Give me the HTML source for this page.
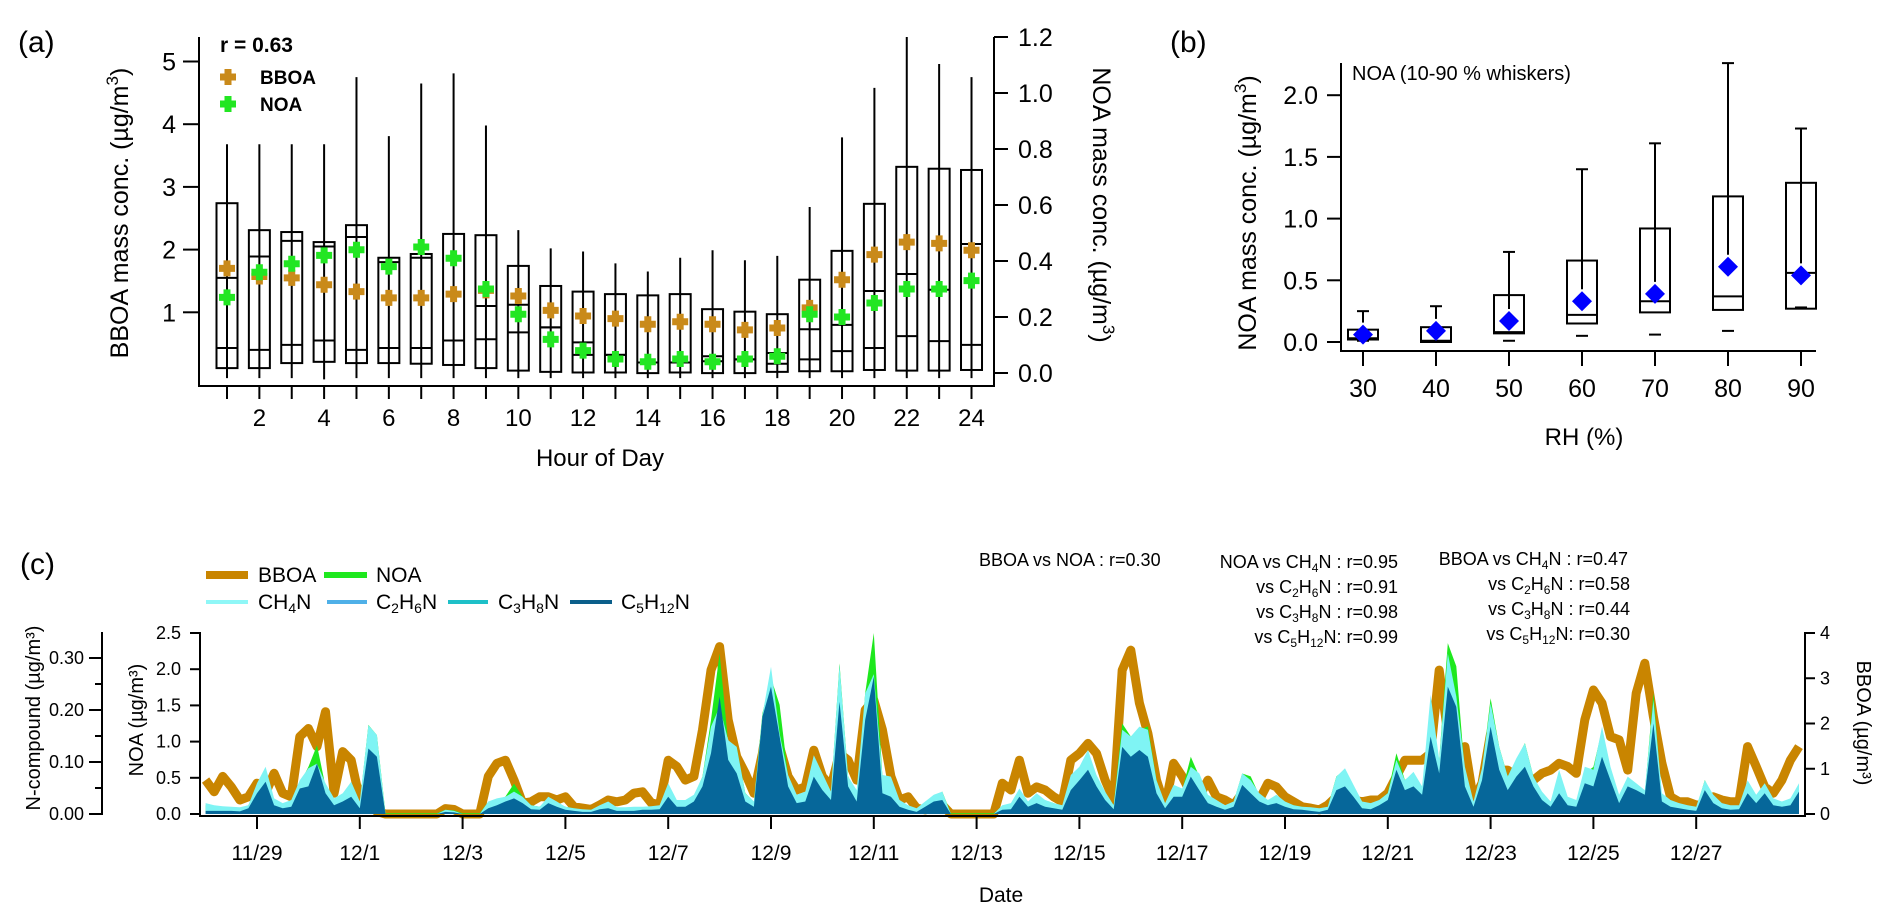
<!DOCTYPE html>
<html><head><meta charset="utf-8"><style>
html,body{margin:0;padding:0;background:#fff;}
svg{display:block;font-family:"Liberation Sans",Arial,sans-serif;}
</style></head>
<body>
<svg id="fig" width="1892" height="924" viewBox="0 0 1892 924" xmlns="http://www.w3.org/2000/svg">
<g>
<text x="18" y="52" font-size="30">(a)</text>
<line x1="199" y1="37" x2="199" y2="387" stroke="#000" stroke-width="2"/>
<line x1="198" y1="386" x2="995" y2="386" stroke="#000" stroke-width="2"/>
<line x1="994" y1="37" x2="994" y2="387" stroke="#000" stroke-width="2"/>
<text transform="translate(128,213) rotate(-90)" text-anchor="middle" font-size="25">BBOA mass conc. (µg/m<tspan dy="-10" font-size="17">3</tspan><tspan dy="10">)</tspan></text>
<text transform="translate(1093,205) rotate(90)" text-anchor="middle" font-size="25">NOA mass conc. (µg/m<tspan dy="-10" font-size="17">3</tspan><tspan dy="10">)</tspan></text>
<text x="600" y="466" text-anchor="middle" font-size="24">Hour of Day</text>
<text x="220" y="52" font-size="21" font-weight="bold">r = 0.63</text>
<path d="M224.5 69h7v4.5h4.5v7h-4.5v4.5h-7v-4.5h-4.5v-7h4.5z" fill="#c98a1a"/>
<text x="260" y="84" font-size="19" font-weight="bold">BBOA</text>
<path d="M224.5 96h7v4.5h4.5v7h-4.5v4.5h-7v-4.5h-4.5v-7h4.5z" fill="#22e622"/>
<text x="260" y="111" font-size="19" font-weight="bold">NOA</text>
<g id="aMarks"></g>
</g>
<g>
<text x="1170" y="52" font-size="30">(b)</text>
<line x1="1341" y1="63" x2="1341" y2="352" stroke="#000" stroke-width="2"/>
<line x1="1340" y1="351" x2="1816" y2="351" stroke="#000" stroke-width="2"/>
<text transform="translate(1256,213) rotate(-90)" text-anchor="middle" font-size="25">NOA mass conc. (µg/m<tspan dy="-10" font-size="17">3</tspan><tspan dy="10">)</tspan></text>
<text x="1584" y="445" text-anchor="middle" font-size="24">RH (%)</text>
<text x="1352" y="80" font-size="20">NOA (10-90 % whiskers)</text>
<g id="bMarks"></g>
</g>
<g>
<text x="20" y="574" font-size="30">(c)</text>
<line x1="206" y1="575" x2="248" y2="575" stroke="#c98500" stroke-width="8"/>
<text x="258" y="582" font-size="21">BBOA</text>
<line x1="324" y1="575" x2="367" y2="575" stroke="#1ee81e" stroke-width="6"/>
<text x="376" y="582" font-size="21">NOA</text>
<line x1="206" y1="602" x2="248" y2="602" stroke="#8ff7f7" stroke-width="4"/>
<text x="258" y="609" font-size="21">CH<tspan font-size="14" dy="4">4</tspan><tspan dy="-4">N</tspan></text>
<line x1="327" y1="602" x2="367" y2="602" stroke="#4fb0e8" stroke-width="4"/>
<text x="376" y="609" font-size="21">C<tspan font-size="14" dy="4">2</tspan><tspan dy="-4">H</tspan><tspan font-size="14" dy="4">6</tspan><tspan dy="-4">N</tspan></text>
<line x1="448" y1="602" x2="488" y2="602" stroke="#1ec0c8" stroke-width="4"/>
<text x="498" y="609" font-size="21">C<tspan font-size="14" dy="4">3</tspan><tspan dy="-4">H</tspan><tspan font-size="14" dy="4">8</tspan><tspan dy="-4">N</tspan></text>
<line x1="570" y1="602" x2="612" y2="602" stroke="#0b5f8a" stroke-width="4"/>
<text x="621" y="609" font-size="21">C<tspan font-size="14" dy="4">5</tspan><tspan dy="-4">H</tspan><tspan font-size="14" dy="4">12</tspan><tspan dy="-4">N</tspan></text>

<text x="979" y="566" font-size="18">BBOA vs NOA : r=0.30</text>
<g font-size="18" text-anchor="end">
<text x="1398" y="568">NOA vs CH<tspan font-size="12" dy="4">4</tspan><tspan dy="-4">N : r=0.95</tspan></text>
<text x="1398" y="593">vs C<tspan font-size="12" dy="4">2</tspan><tspan dy="-4">H</tspan><tspan font-size="12" dy="4">6</tspan><tspan dy="-4">N : r=0.91</tspan></text>
<text x="1398" y="618">vs C<tspan font-size="12" dy="4">3</tspan><tspan dy="-4">H</tspan><tspan font-size="12" dy="4">8</tspan><tspan dy="-4">N : r=0.98</tspan></text>
<text x="1398" y="643">vs C<tspan font-size="12" dy="4">5</tspan><tspan dy="-4">H</tspan><tspan font-size="12" dy="4">12</tspan><tspan dy="-4">N: r=0.99</tspan></text>
</g>
<g font-size="18" text-anchor="end">
<text x="1628" y="565">BBOA vs CH<tspan font-size="12" dy="4">4</tspan><tspan dy="-4">N : r=0.47</tspan></text>
<text x="1630" y="590">vs C<tspan font-size="12" dy="4">2</tspan><tspan dy="-4">H</tspan><tspan font-size="12" dy="4">6</tspan><tspan dy="-4">N : r=0.58</tspan></text>
<text x="1630" y="615">vs C<tspan font-size="12" dy="4">3</tspan><tspan dy="-4">H</tspan><tspan font-size="12" dy="4">8</tspan><tspan dy="-4">N : r=0.44</tspan></text>
<text x="1630" y="640">vs C<tspan font-size="12" dy="4">5</tspan><tspan dy="-4">H</tspan><tspan font-size="12" dy="4">12</tspan><tspan dy="-4">N: r=0.30</tspan></text>
</g>
<text transform="translate(40,718) rotate(-90)" text-anchor="middle" font-size="20">N-compound (µg/m³)</text>
<text transform="translate(143,720) rotate(-90)" text-anchor="middle" font-size="20">NOA (µg/m³)</text>
<text transform="translate(1857,723) rotate(90)" text-anchor="middle" font-size="20">BBOA (µg/m³)</text>
<text x="1001" y="902" text-anchor="middle" font-size="21">Date</text>
<g id="cMarks"></g>
<line x1="200" y1="632" x2="200" y2="817" stroke="#000" stroke-width="2"/>
<line x1="199" y1="816" x2="1806" y2="816" stroke="#000" stroke-width="2"/>
<line x1="1805" y1="632" x2="1805" y2="817" stroke="#000" stroke-width="2"/>
<line x1="102" y1="632" x2="102" y2="815" stroke="#000" stroke-width="2"/>
</g>
</svg>
<script>
const aHours = [1,2,3,4,5,6,7,8,9,10,11,12,13,14,15,16,17,18,19,20,21,22,23,24];
const aBoxTop = [2.74,2.31,2.28,2.12,2.39,1.87,1.93,2.25,2.23,1.74,1.42,1.33,1.29,1.27,1.29,1.05,1.01,0.97,1.52,1.98,2.73,3.32,3.29,3.27];
const aBoxBottom = [0.11,0.11,0.19,0.21,0.19,0.19,0.18,0.16,0.11,0.07,0.05,0.04,0.04,0.03,0.04,0.03,0.03,0.05,0.06,0.06,0.08,0.07,0.07,0.08];
const aMedianUpper = [1.55,1.89,2.14,2.05,2.2,1.8,1.87,0.55,1.10,1.12,0.76,0.52,0.32,0.2,0.2,0.3,0.25,0.35,0.73,0.80,1.34,1.61,1.36,2.09];
const aMedianLower = [0.43,0.40,0.48,0.55,0.40,0.43,0.43,0.55,0.57,0.68,0.76,0.32,0.32,0.2,0.2,0.22,0.25,0.18,0.25,0.38,0.43,0.62,0.54,0.48];
const aWhiskerTop = [3.68,3.68,3.68,3.68,4.75,3.81,4.65,4.81,3.98,2.31,2.02,1.97,1.78,1.65,1.87,1.99,1.83,1.90,2.68,3.79,4.58,5.39,4.96,4.75];
const aWhiskerBottom = [-0.05,-0.05,-0.05,-0.07,-0.05,-0.05,-0.05,-0.05,-0.05,-0.05,-0.05,-0.05,-0.05,-0.05,-0.05,-0.05,-0.05,-0.05,-0.05,-0.05,-0.05,-0.05,-0.05,-0.05];
const aBboaMean = [1.70,1.57,1.55,1.44,1.33,1.23,1.23,1.29,1.35,1.26,1.03,0.94,0.90,0.81,0.85,0.81,0.72,0.75,1.07,1.52,1.92,2.12,2.10,1.99];
const aNoaMean = [0.27,0.36,0.39,0.42,0.44,0.38,0.45,0.41,0.30,0.21,0.12,0.08,0.05,0.04,0.05,0.04,0.05,0.06,0.21,0.20,0.25,0.30,0.30,0.33];
const aLeftTicks = [1,2,3,4,5];
const aRightTicks = [0.0,0.2,0.4,0.6,0.8,1.0,1.2];
const aHourLabels = [2,4,6,8,10,12,14,16,18,20,22,24];

const bRH = [30,40,50,60,70,80,90];
const bBoxTop = [0.10,0.12,0.38,0.66,0.92,1.18,1.29];
const bBoxBottom = [0.02,0.00,0.07,0.15,0.24,0.26,0.27];
const bMedian = [0.03,0.01,0.08,0.22,0.33,0.37,0.56];
const bWhiskerTop = [0.25,0.29,0.73,1.40,1.61,2.26,1.73];
const bWhiskerBottom = [0.01,0.0,0.01,0.05,0.06,0.09,0.28];
const bMean = [0.06,0.09,0.17,0.33,0.39,0.61,0.54];
const bYTicks = [0.0,0.5,1.0,1.5,2.0];

const cStartDay = -1;
const cStepHours = 4;
const cBBOA = [0.75,0.49,0.83,0.60,0.31,0.38, 0.68,0.46,0.90,0.46,0.38,1.71, 1.89,1.49,2.26,0.46,1.38,1.19, 0.31,0.75,0.05,0,0,0, 0,0,0,0,0.12,0.10, 0,0,0,0.83,1.12,1.19, 0.75,0.24,0.27,0.38,0.38,0.31, 0.38,0.16,0.13,0.10,0.20,0.31,
 0.27,0.31,0.46,0.49,0.25,0.20, 1.19,1.05,0.75,0.83,1.86,3.18, 3.70,2.08,1.27,0.90,0.46,1.34, 2.59,1.49,0.83,0.53,0.60,1.41, 0.83,0.60,1.34,1.19,0.75,2.30, 2.52,1.86,0.83,0.31,0.38,0.13, 0.09,0.16,0.20,0,0,0, 0,0,0,0.68,0.53,
 1.19, 0.46,0.60,0.53,0.38,0.27,1.19, 1.34,1.56,1.34,0.75,0.31,3.18, 3.62,2.45,1.78,0.75,0.16,1.12, 0.83,0.46,0.38,0.75,0.38,0.31, 0.20,0.46,0.27,0.31,0.68,0.60, 0.38,0.27,0.16,0.13,0.09,0.20, 0.38,0.46,0.31,0.27,0.31,0.31, 0.46,0.83,1.19,1.19,
 1.19,1.34, 3.18,1.78,0.90,1.49,0.31,0.68, 1.78,0.97,0.97,0.83,0.60,0.75, 0.90,0.97,1.12,1.05,0.90,2.08, 2.74,2.45,1.71,1.64,0.97,2.67, 3.33,2.15,1.12,0.38,0.27,0.27, 0.20,0.20,0.38,0.31,0.27,0.27, 1.49,1.05,0.60,0.46,0.75,1.19, 1.49];
const cNOA = [0.12,0.10,0.10,0.09,0.08,0.12, 0.40,0.63,0.19,0.12,0.17,0.42, 0.65,0.95,0.38,0.19,0.26,0.42, 0.15,1.23,1.09,0.01,0.01,0.01, 0.01,0.01,0.01,0.01,0.06,0.05, 0.01,0.01,0.01,0.17,0.19,0.24, 0.42,0.24,0.12,0.10,0.22,0.16, 0.10,0.08,0.06,0.06,0.10,0.15,
 0.08,0.08,0.08,0.09,0.10,0.10, 0.42,0.17,0.19,0.24,0.52,1.30, 2.22,0.98,0.93,0.29,0.17,1.39, 1.88,1.51,0.52,0.24,0.29,0.79, 0.56,0.29,2.08,0.52,0.29,1.67, 2.50,0.52,0.49,0.17,0.10,0.06, 0.17,0.24,0.31,0.01,0.01,0.01, 0.01,0.01,0.01,0.10,0.12,
 0.33, 0.17,0.26,0.19,0.15,0.10,0.52, 0.61,0.84,0.52,0.29,0.12,1.25, 1.07,1.16,1.21,0.47,0.12,0.38, 0.33,0.79,0.52,0.24,0.17,0.10, 0.17,0.56,0.52,0.26,0.19,0.24, 0.17,0.12,0.10,0.08,0.06,0.10, 0.52,0.61,0.38,0.15,0.12,0.19, 0.29,0.84,0.47,0.56,
 0.33,1.16, 0.75,2.36,2.04,0.56,0.15,0.61, 1.60,0.93,0.52,0.75,0.98,0.52, 0.29,0.17,0.38,0.19,0.17,0.56, 0.65,1.16,0.61,0.24,0.47,0.38, 0.29,1.67,0.24,0.17,0.12,0.10, 0.08,0.47,0.24,0.12,0.10,0.10, 0.42,0.24,0.38,0.19,0.15,0.19, 0.33];
const cCH4N = [0.021,0.017,0.015,0.014,0.013,0.017, 0.059,0.091,0.030,0.021,0.027,0.065, 0.088,0.097,0.059,0.030,0.040,0.062, 0.024,0.171,0.152,0,0,0, 0,0,0,0,0.008,0.006, 0,0,0,0.024,0.030,0.033, 0.043,0.033,0.017,0.014,0.033,0.024, 0.014,0.011,0.009,0.008,0.017,0.024,
 0.013,0.013,0.014,0.014,0.015,0.017, 0.059,0.027,0.027,0.037,0.072,0.168, 0.206,0.142,0.129,0.040,0.024,0.190, 0.283,0.155,0.075,0.037,0.043,0.113, 0.078,0.043,0.287,0.072,0.046,0.232, 0.269,0.075,0.072,0.027,0.017,0.011, 0.024,0.037,0.043,0,0,0, 0,0,0,0.017,0.021,
 0.049, 0.024,0.040,0.027,0.021,0.017,0.075, 0.091,0.123,0.075,0.043,0.017,0.162, 0.149,0.168,0.162,0.065,0.021,0.056, 0.049,0.091,0.078,0.037,0.027,0.017, 0.024,0.078,0.065,0.040,0.027,0.037, 0.024,0.017,0.014,0.013,0.011,0.014, 0.072,0.088,0.056,0.024,0.021,0.027, 0.040,0.104,0.065,0.081,
 0.053,0.229, 0.104,0.309,0.226,0.091,0.024,0.088, 0.213,0.129,0.072,0.107,0.136,0.072, 0.043,0.024,0.085,0.033,0.027,0.091, 0.085,0.168,0.091,0.037,0.072,0.059, 0.046,0.219,0.040,0.027,0.021,0.017, 0.014,0.065,0.037,0.021,0.017,0.017, 0.065,0.037,0.059,0.030,0.024,0.030, 0.059];
const cC5H12N = [0.006,0.006,0.006,0.006,0.005,0.011, 0.040,0.062,0.017,0.011,0.014,0.049, 0.053,0.097,0.040,0.017,0.024,0.033, 0.011,0.126,0.110,0,0,0, 0,0,0,0,0.004,0.003, 0,0,0,0.011,0.017,0.024, 0.030,0.021,0.009,0.008,0.021,0.014, 0.008,0.006,0.004,0.004,0.009,0.011,
 0.006,0.006,0.006,0.008,0.008,0.009, 0.033,0.014,0.014,0.024,0.053,0.117, 0.226,0.104,0.078,0.024,0.014,0.187, 0.245,0.149,0.053,0.021,0.024,0.072, 0.046,0.027,0.216,0.053,0.024,0.181, 0.264,0.040,0.033,0.014,0.008,0.004, 0.014,0.024,0.027,0,0,0, 0,0,0,0.008,0.009,
 0.033, 0.014,0.021,0.014,0.011,0.008,0.046, 0.065,0.085,0.053,0.027,0.009,0.129, 0.110,0.123,0.110,0.040,0.011,0.033, 0.033,0.072,0.046,0.021,0.014,0.008, 0.014,0.056,0.040,0.024,0.017,0.021, 0.014,0.009,0.008,0.006,0.004,0.008, 0.046,0.053,0.033,0.011,0.009,0.017, 0.027,0.085,0.046,0.053,
 0.037,0.149, 0.078,0.245,0.206,0.053,0.014,0.065, 0.168,0.085,0.046,0.072,0.091,0.053, 0.027,0.014,0.040,0.017,0.014,0.059, 0.053,0.110,0.065,0.021,0.053,0.046, 0.037,0.174,0.024,0.014,0.011,0.008, 0.006,0.046,0.021,0.011,0.008,0.009, 0.040,0.021,0.040,0.017,0.014,0.017, 0.043];
const cDateLabels = ['11/29','12/1','12/3','12/5','12/7','12/9','12/11','12/13','12/15','12/17','12/19','12/21','12/23','12/25','12/27'];
const cDateDays = [0,2,4,6,8,10,12,14,16,18,20,22,24,26,28];
const cNoaTicks = [0.0,0.5,1.0,1.5,2.0,2.5];
const cBboaTicks = [0,1,2,3,4];
const cNcompTicks = [0.00,0.10,0.20,0.30];
const cNcompMinor = [0.05,0.15,0.25];

const NS = 'http://www.w3.org/2000/svg';
function mk(tag, attrs, parent){ const e=document.createElementNS(NS,tag); for(const k in attrs) e.setAttribute(k,attrs[k]); parent.appendChild(e); return e; }
function plusPath(cx,cy){ return `M${cx-3.5} ${cy-8}h7v4.5h4.5v7h-4.5v4.5h-7v-4.5h-4.5v-7h4.5z`; }

const ax = h => 227 + (h-1)*32.37;
const ayL = v => 375 - v*62.7;
const ayR = v => 373 - v*280;
const gA = document.getElementById('aMarks');
aLeftTicks.forEach(t=>{
  const l=mk('line',{x1:183,x2:199,y1:ayL(t),y2:ayL(t),stroke:'#000','stroke-width':2},gA);
  
  
  const tx=mk('text',{x:176,y:ayL(t)+9,'text-anchor':'end','font-size':25},gA); tx.textContent=t;
  
  
});
aRightTicks.forEach(t=>{
  const l=mk('line',{x1:994,x2:1008,y1:ayR(t),y2:ayR(t),stroke:'#000','stroke-width':2},gA);
  
  
  const tx=mk('text',{x:1018,y:ayR(t)+9,'font-size':25},gA); tx.textContent=t.toFixed(1);
  
  
});
aHours.forEach((h,i)=>{
  const x=ax(h);
  const tk=mk('line',{x1:x,x2:x,y1:386,y2:399,stroke:'#000','stroke-width':2},gA);
  
  
  const w=mk('line',{x1:x,x2:x,y1:ayL(aWhiskerTop[i]),y2:ayL(aWhiskerBottom[i]),stroke:'#000','stroke-width':2},gA);
  
  
  const b=mk('rect',{x:x-10.5,y:ayL(aBoxTop[i]),width:21,height:ayL(aBoxBottom[i])-ayL(aBoxTop[i]),fill:'none',stroke:'#000','stroke-width':2},gA);
  
  
  [aMedianUpper[i],aMedianLower[i]].forEach(m=>{
    const ml=mk('line',{x1:x-10.5,x2:x+10.5,y1:ayL(m),y2:ayL(m),stroke:'#000','stroke-width':2},gA);
    
    
  });
});
aHours.forEach((h,i)=>{
  const pb=mk('path',{d:plusPath(ax(h),ayL(aBboaMean[i])),fill:'#c98a1a'},gA);
  
  
});
aHours.forEach((h,i)=>{
  const pn=mk('path',{d:plusPath(ax(h),ayR(aNoaMean[i])),fill:'#22e622'},gA);
  
  
});
aHourLabels.forEach(h=>{
  const t=mk('text',{x:ax(h),y:426,'text-anchor':'middle','font-size':24},gA); t.textContent=h;
  
  
});

const bx = rh => 1363 + (rh-30)/10*73.0;
const by = v => 342 - v*123.4;
const gB = document.getElementById('bMarks');
bYTicks.forEach(t=>{
  const l=mk('line',{x1:1327,x2:1341,y1:by(t),y2:by(t),stroke:'#000','stroke-width':2},gB);
  
  
  const tx=mk('text',{x:1318,y:by(t)+9,'text-anchor':'end','font-size':25},gB); tx.textContent=t.toFixed(1);
  
  
});
bRH.forEach((rh,i)=>{
  const x=bx(rh);
  const tk=mk('line',{x1:x,x2:x,y1:351,y2:366,stroke:'#000','stroke-width':2},gB);
  
  
  const tl=mk('text',{x:x,y:397,'text-anchor':'middle','font-size':25},gB); tl.textContent=rh;
  
  
  const wl=mk('line',{x1:x,x2:x,y1:by(bWhiskerTop[i]),y2:by(bMean[i])-12,stroke:'#000','stroke-width':2},gB);
  
  
  const cap=mk('line',{x1:x-6,x2:x+6,y1:by(bWhiskerTop[i]),y2:by(bWhiskerTop[i]),stroke:'#000','stroke-width':2},gB);
  
  
  const lc=mk('line',{x1:x-6,x2:x+6,y1:by(bWhiskerBottom[i]),y2:by(bWhiskerBottom[i]),stroke:'#000','stroke-width':2},gB);
  
  
  const bx2=mk('rect',{x:x-15,y:by(bBoxTop[i]),width:30,height:by(bBoxBottom[i])-by(bBoxTop[i]),fill:'none',stroke:'#000','stroke-width':2},gB);
  
  
  const md=mk('line',{x1:x-15,x2:x+15,y1:by(bMedian[i]),y2:by(bMedian[i]),stroke:'#000','stroke-width':2},gB);
  
  
  const y=by(bMean[i]);
  const d=mk('polygon',{points:`${x},${y-10} ${x+10},${y} ${x},${y+10} ${x-10},${y}`,fill:'#0000ff'},gB);
  
  
});

const cx = day => 257 + day*51.4;
const cyNOA = v => 814 - v*72.4;
const cyB = v => 814 - v*45.25;
const cyN = v => 814 - v*520;
const gC = document.getElementById('cMarks');
const tDay = i => cStartDay + i*cStepHours/24;
function linePts(arr, yf){ return arr.map((v,i)=>`${cx(tDay(i)).toFixed(1)},${yf(v).toFixed(1)}`).join(' '); }
function areaPts(arr, yf){ return `${cx(tDay(0))},814 ` + linePts(arr,yf) + ` ${cx(tDay(arr.length-1))},814`; }
const pB=mk('polyline',{points:linePts(cBBOA,cyB),fill:'none',stroke:'#c98500','stroke-width':9,'stroke-linejoin':'round'},gC);


const pN=mk('polygon',{points:areaPts(cNOA,cyNOA),fill:'#1ee81e'},gC);


const pC=mk('polygon',{points:areaPts(cCH4N,cyN),fill:'#7ff4f4'},gC);


const pD=mk('polygon',{points:areaPts(cC5H12N,cyN),fill:'#06679a'},gC);


cDateDays.forEach((d,i)=>{
  const x=cx(d);
  const tk=mk('line',{x1:x,x2:x,y1:816,y2:829,stroke:'#000','stroke-width':2},gC);
  
  
  const tl=mk('text',{x:x,y:860,'text-anchor':'middle','font-size':21},gC); tl.textContent=cDateLabels[i];
  
  
});
cNoaTicks.forEach(t=>{
  const l=mk('line',{x1:190,x2:200,y1:cyNOA(t),y2:cyNOA(t),stroke:'#000','stroke-width':2},gC);
  
  
  const tx=mk('text',{x:181,y:cyNOA(t)+6,'text-anchor':'end','font-size':18},gC); tx.textContent=t.toFixed(1);
  
  
});
cBboaTicks.forEach(t=>{
  const l=mk('line',{x1:1805,x2:1815,y1:cyB(t),y2:cyB(t),stroke:'#000','stroke-width':2},gC);
  
  
  const tx=mk('text',{x:1820,y:cyB(t)+6,'font-size':18},gC); tx.textContent=t;
  
  
});
cNcompTicks.forEach(t=>{
  const l=mk('line',{x1:89,x2:102,y1:cyN(t),y2:cyN(t),stroke:'#000','stroke-width':2},gC);
  
  
  const tx=mk('text',{x:84,y:cyN(t)+6,'text-anchor':'end','font-size':18},gC); tx.textContent=t.toFixed(2);
  
  
});
cNcompMinor.forEach(t=>{
  const l=mk('line',{x1:95,x2:102,y1:cyN(t),y2:cyN(t),stroke:'#000','stroke-width':2},gC);
  
  
});
</script>
</body></html>
